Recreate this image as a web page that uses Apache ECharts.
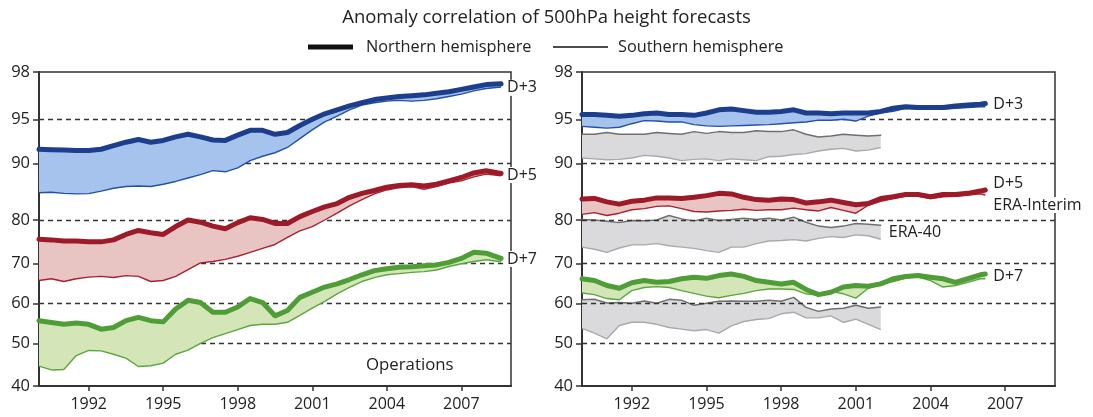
<!DOCTYPE html>
<html><head><meta charset="utf-8">
<script src="https://cdn.jsdelivr.net/npm/echarts@6/dist/echarts.min.js"></script>
<style>html,body{margin:0;padding:0;background:#fff}#c{width:1093px;height:417px}</style>
</head><body><div id="c"></div>
<script>
const FONT = '"Open Sans", "Noto Sans", sans-serif';

// ---- x positions (years) ----
const yearsOps = [1990,1990.5,1991,1991.5,1992,1992.5,1993,1993.5,1994,1994.5,1995,1995.5,1996,1996.5,1997,1997.5,1998,1998.5,1999,1999.5,2000,2000.5,2001,2001.5,2002,2002.5,2003,2003.5,2004,2004.5,2005,2005.5,2006,2006.5,2007,2007.5,2008,2008.6];
const yearsEI = [1990,1990.5,1991,1991.5,1992,1992.5,1993,1993.5,1994,1994.5,1995,1995.5,1996,1996.5,1997,1997.5,1998,1998.5,1999,1999.5,2000,2000.5,2001,2001.5,2002,2002.5,2003,2003.5,2004,2004.5,2005,2005.5,2006,2006.2];
const yearsE40 = [1990,1990.5,1991,1991.5,1992,1992.5,1993,1993.5,1994,1994.5,1995,1995.5,1996,1996.5,1997,1997.5,1998,1998.5,1999,1999.5,2000,2000.5,2001,2001.5,2002];

// ---- Operations (left panel) ----
const opsD3NH = [91.6,91.55,91.5,91.45,91.45,91.6,92.0,92.4,92.7,92.4,92.6,93.0,93.3,93.0,92.65,92.6,93.2,93.75,93.75,93.3,93.5,94.3,95.0,95.35,95.6,95.85,96.05,96.25,96.35,96.45,96.5,96.55,96.65,96.75,96.9,97.05,97.2,97.25];
const opsD3SH = [84.8,84.9,84.7,84.6,84.65,85.1,85.6,85.9,86.0,85.9,86.3,86.8,87.4,88.0,88.7,88.5,89.2,90.3,90.8,91.2,91.8,92.8,93.8,94.7,95.2,95.6,95.9,96.05,96.15,96.2,96.15,96.2,96.3,96.45,96.6,96.8,96.95,97.05];
const opsD5NH = [75.6,75.45,75.2,75.2,75.0,75.0,75.45,76.7,77.6,77.1,76.7,78.5,80.0,79.5,78.6,78.0,79.4,80.4,80.1,79.2,79.2,80.6,81.5,82.3,82.9,84.0,84.7,85.2,85.8,86.1,86.2,86.0,86.3,86.9,87.5,88.3,88.7,88.2];
const opsD5SH = [65.75,66.2,65.5,66.2,66.6,66.8,66.5,67.0,66.8,65.5,65.75,66.8,68.5,70.2,70.5,71.0,71.7,72.6,73.5,74.4,76.0,77.5,78.5,80.0,81.2,82.5,83.6,84.6,85.3,85.7,85.9,85.4,85.9,86.5,86.9,87.6,88.1,87.8];
const opsD7NH = [55.7,55.25,54.8,55.1,54.8,53.6,54.0,55.7,56.5,55.7,55.4,58.6,60.75,60.2,57.8,57.8,59.1,61.2,60.2,56.9,58.2,61.5,62.8,64.1,64.9,66.0,67.2,68.25,68.7,69.1,69.25,69.5,69.7,70.3,71.2,72.6,72.4,71.2];
const opsD7SH = [44.7,43.8,43.9,47.2,48.4,48.3,47.5,46.6,44.6,44.8,45.4,47.5,48.5,50.1,51.5,52.5,53.5,54.5,54.8,54.8,55.3,57.0,58.8,60.5,62.4,64.0,65.5,66.5,67.2,67.5,67.8,68.0,68.4,69.3,70.0,70.5,70.9,70.45];

// ---- ERA-Interim (right panel) ----
const eiD3NH = [95.3,95.3,95.25,95.2,95.25,95.35,95.4,95.3,95.3,95.25,95.4,95.6,95.65,95.55,95.45,95.45,95.5,95.6,95.4,95.4,95.35,95.4,95.4,95.4,95.5,95.7,95.8,95.75,95.75,95.75,95.85,95.9,95.95,96.0];
const eiD3SH = [94.2,94.1,94.0,94.1,94.5,94.85,94.8,94.7,94.7,94.4,94.25,94.2,94.25,94.3,94.35,94.4,94.5,94.6,94.7,94.9,94.9,95.0,94.8,95.2,95.4,95.5,95.7,95.65,95.7,95.65,95.7,95.75,95.8,95.8];
const eiD5NH = [83.7,83.8,83.2,82.8,83.3,83.5,83.9,83.9,83.8,84.0,84.3,84.7,84.6,84.0,83.6,83.5,83.7,83.6,83.0,83.2,83.5,83.1,82.7,82.9,83.8,84.1,84.5,84.5,84.1,84.5,84.5,84.7,85.1,85.3];
const eiD5SH = [81.0,81.3,80.8,81.2,81.8,82.0,82.4,82.5,82.0,81.5,81.4,81.6,81.7,81.9,81.7,81.8,81.8,82.1,81.8,81.6,82.2,81.7,81.2,82.6,83.3,83.8,84.2,84.2,83.8,84.1,84.2,84.4,84.6,84.4];
const eiD7NH = [66.2,65.75,64.5,63.8,65.2,65.75,65.3,65.5,66.2,66.6,66.3,67.0,67.4,66.8,65.75,65.3,64.9,65.3,63.5,62.2,62.8,64.1,64.5,64.3,64.9,66.2,66.8,67.0,66.6,66.2,65.3,66.2,67.2,67.4];
const eiD7SH = [62.6,62.2,61.2,60.9,63.2,64.0,64.2,64.0,63.2,62.5,61.8,61.4,62.0,62.5,63.2,63.6,63.6,63.5,62.4,62.0,63.0,62.4,61.3,63.8,64.7,65.5,66.3,66.6,65.75,64.1,64.5,65.3,66.2,66.2];

// ---- ERA-40 (right panel, grey) ----
const e40D3NH = [93.3,93.3,93.5,93.3,93.3,93.3,93.5,93.4,93.3,93.6,93.4,93.6,93.5,93.5,93.7,93.6,93.6,93.8,93.3,93.0,93.1,93.3,93.2,93.1,93.2];
const e40D3SH = [90.6,90.5,90.4,90.45,90.6,90.9,90.8,90.6,90.3,90.45,90.5,90.3,90.5,90.4,90.3,90.75,90.8,91.0,91.1,91.4,91.6,91.7,91.4,91.5,91.8];
const e40D5NH = [80.1,80.0,79.7,79.4,79.9,79.8,80.0,80.8,80.2,79.8,80.3,79.9,80.1,80.3,80.1,80.3,80.0,80.5,79.5,78.6,78.3,78.6,79.2,79.0,78.8];
const e40D5SH = [73.8,73.3,72.6,73.6,74.3,74.3,74.6,74.1,73.8,73.5,73.0,72.6,73.8,73.8,74.6,75.2,75.3,75.5,75.2,75.8,76.2,76.0,76.6,76.4,75.6];
const e40D7NH = [60.9,61.0,60.1,60.2,60.0,60.6,60.0,61.0,60.8,59.5,60.0,60.5,60.6,60.5,60.5,60.8,60.5,61.5,59.0,58.0,58.6,58.8,59.5,58.8,59.1];
const e40D7SH = [53.8,52.6,51.2,54.5,55.3,55.3,54.8,54.0,53.6,53.2,53.5,52.6,54.4,55.5,56.0,56.2,57.4,57.8,56.4,56.4,56.9,55.25,56.1,54.8,53.5];

// ---- axes ----
const yTickValues = [40,50,60,70,80,90,95,98];
const yTickLabels = ['40','50','60','70','80','90','95','98'];
const yScalePos   = [0,42.3,82.7,122.3,166,222.7,266.7,314];   // non-linear vertical scale of the original
const gridValues  = [50,60,70,80,90,95];
const xTickYears  = [1992,1995,1998,2001,2004,2007];
const xLabels     = ['1992','1995','1998','2001','2004','2007'];

function T(v){
  let i = 0;
  while (i < yTickValues.length - 2 && v > yTickValues[i+1]) i++;
  const a = yTickValues[i], b = yTickValues[i+1];
  return yScalePos[i] + (v - a) / (b - a) * (yScalePos[i+1] - yScalePos[i]);
}
function yLabel(t){
  let best = 0;
  for (let i = 1; i < yScalePos.length; i++) if (Math.abs(yScalePos[i]-t) < Math.abs(yScalePos[best]-t)) best = i;
  return yTickLabels[best];
}

const C = {
  blue:  {thick:'#1c3e8c', thin:'#2451a6', fill:'#a5c3ec'},
  red:   {thick:'#9d1a28', thin:'#a8212f', fill:'#e8c4c3'},
  green: {thick:'#4e9d37', thin:'#59a73f', fill:'#d4e6b7'},
  grey:  {thick:'#6f6f6f', thin:'#a9a9a9', fill:'#dadadc'}
};
const labelBase = {show:true, color:'#222', fontSize:16, fontFamily:FONT};

function band(g, xs, nh, sh, col, thickW, zBase, endLabel){
  const nhPts = xs.map((x,i)=>[x, T(nh[i])]);
  const shPts = xs.map((x,i)=>[x, T(sh[i])]);
  return [
    {type:'custom', xAxisIndex:g, yAxisIndex:g, silent:true, z:zBase, data:[nhPts[0]],
     renderItem:(params, api)=>{
       const pts = nhPts.map(p=>api.coord(p)).concat(shPts.slice().reverse().map(p=>api.coord(p)));
       return {type:'polygon', shape:{points:pts}, style:{fill:col.fill}};
     }},
    {type:'line', xAxisIndex:g, yAxisIndex:g, silent:true, z:zBase+1, data:shPts, symbol:'none', showSymbol:false,
     lineStyle:{color:col.thin, width:1.4}},
    {type:'line', xAxisIndex:g, yAxisIndex:g, silent:true, z:zBase+2, data:nhPts, symbol:'none', showSymbol:false,
     lineStyle:{color:col.thick, width:thickW, cap:'round', join:'round'},
     endLabel: endLabel || {show:false}}
  ];
}
function gridLines(g){
  return {type:'line', xAxisIndex:g, yAxisIndex:g, silent:true, z:1, data:[], symbol:'none',
    markLine:{silent:true, symbol:['none','none'], label:{show:false}, animation:false,
      lineStyle:{type:[5,4], color:'#333', width:1.4},
      data: gridValues.map(v=>({yAxis:T(v)}))}};
}

const series = [].concat(
  gridLines(0), gridLines(1),
  band(0, yearsOps, opsD3NH, opsD3SH, C.blue, 5, 5, Object.assign({}, labelBase, {formatter:'D+3', distance:5, offset:[0,4], backgroundColor:'#fff', padding:[0,1]})),
  band(0, yearsOps, opsD5NH, opsD5SH, C.red, 5, 5, Object.assign({}, labelBase, {formatter:'D+5', distance:5, offset:[0,1.5], backgroundColor:'#fff', padding:[0,1]})),
  band(0, yearsOps, opsD7NH, opsD7SH, C.green, 5, 5, Object.assign({}, labelBase, {formatter:'D+7', distance:5, offset:[0,0.5], backgroundColor:'#fff', padding:[0,1]})),
  band(1, yearsE40, e40D3NH, e40D3SH, C.grey, 1.5, 2, null),
  band(1, yearsE40, e40D5NH, e40D5SH, C.grey, 1.5, 2, Object.assign({}, labelBase, {formatter:'ERA-40', distance:8, offset:[0,7]})),
  band(1, yearsE40, e40D7NH, e40D7SH, C.grey, 1.5, 2, null),
  band(1, yearsEI, eiD3NH, eiD3SH, C.blue, 5, 6, Object.assign({}, labelBase, {formatter:'D+3', distance:8, offset:[0,0.5]})),
  band(1, yearsEI, eiD5NH, eiD5SH, C.red, 5, 6, Object.assign({}, labelBase, {formatter:'{a|D+5}\n{b|ERA-Interim}', distance:8, offset:[0,4], lineHeight:22,
       rich:{a:{fontSize:16, fontFamily:FONT, color:'#222', lineHeight:22}, b:{fontSize:16, fontFamily:FONT, color:'#222', lineHeight:22, backgroundColor:'#fff'}}})),
  band(1, yearsEI, eiD7NH, eiD7SH, C.green, 5, 6, Object.assign({}, labelBase, {formatter:'D+7', distance:8, offset:[0,2]}))
);

function xAxis(g){
  return {type:'value', gridIndex:g, min:1990, max:2009,
    axisLine:{show:true, onZero:false, lineStyle:{color:'#333', width:2}},
    axisTick:{show:true, customValues:xTickYears, length:5, lineStyle:{color:'#333', width:1.5}},
    axisLabel:{customValues:xTickYears, formatter:v=>xLabels[xTickYears.indexOf(Math.round(v))] || '', margin:10,
      color:'#222', fontSize:16, fontFamily:FONT},
    splitLine:{show:false}};
}
function yAxis(g){
  return {type:'value', gridIndex:g, min:0, max:314,
    axisLine:{show:true, onZero:false, lineStyle:{color:'#333', width:2}},
    axisTick:{show:true, customValues:yScalePos, length:6, lineStyle:{color:'#333', width:1.5}},
    axisLabel:{customValues:yScalePos, formatter:v=>yLabel(v), margin:9,
      color:'#222', fontSize:16.5, fontFamily:FONT},
    splitLine:{show:false}};
}

const chart = echarts.init(document.getElementById('c'), null, {renderer:'canvas'});
chart.setOption({
  animation:false,
  backgroundColor:'#fff',
  title:{text:'Anomaly correlation of 500hPa height forecasts', left:'center', top:3,
    textStyle:{fontSize:18.5, fontWeight:'normal', fontFamily:FONT, color:'#222'}},
  grid:[
    {left:39, top:72, width:472, height:314, show:true, borderColor:'#333', borderWidth:1.5, backgroundColor:'transparent'},
    {left:582, top:72, width:473, height:314, show:true, borderColor:'#333', borderWidth:1.5, backgroundColor:'transparent'}
  ],
  xAxis:[xAxis(0), xAxis(1)],
  yAxis:[yAxis(0), yAxis(1)],
  graphic:[
    {type:'line', shape:{x1:308, y1:47, x2:353, y2:47}, style:{stroke:'#111', lineWidth:5}},
    {type:'text', x:366, y:47, style:{text:'Northern hemisphere', fill:'#222', font:'16.3px ' + FONT, textVerticalAlign:'middle'}},
    {type:'line', shape:{x1:553, y1:47, x2:608, y2:47}, style:{stroke:'#111', lineWidth:1.4}},
    {type:'text', x:618, y:47, style:{text:'Southern hemisphere', fill:'#222', font:'16.3px ' + FONT, textVerticalAlign:'middle'}},
    {type:'text', x:366, y:365, style:{text:'Operations', fill:'#222', font:'16.8px ' + FONT, textVerticalAlign:'middle'}}
  ],
  series: series
});
</script></body></html>
